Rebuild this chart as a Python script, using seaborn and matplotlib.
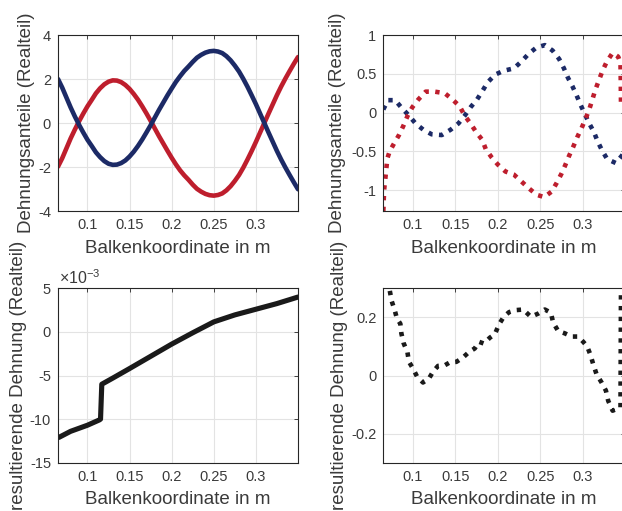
import numpy as np
import pandas as pd
import matplotlib
matplotlib.use("Agg")
import matplotlib.pyplot as plt
import matplotlib.ticker as mticker
import seaborn as sns

# ---------------- data ----------------
x_tl = [0.065, 0.07, 0.075, 0.08, 0.085, 0.09, 0.095, 0.10, 0.105, 0.11, 0.115, 0.12, 0.125, 0.13,
        0.135, 0.14, 0.145, 0.15, 0.155, 0.16, 0.165, 0.17, 0.175, 0.18, 0.185, 0.19, 0.195, 0.20,
        0.205, 0.21, 0.215, 0.22, 0.225, 0.23, 0.235, 0.24, 0.245, 0.25, 0.255, 0.26, 0.265, 0.27,
        0.275, 0.28, 0.285, 0.29, 0.295, 0.30, 0.305, 0.31, 0.315, 0.32, 0.325, 0.33, 0.335, 0.34,
        0.345, 0.35]
red_tl = [-1.98, -1.60, -1.15, -0.70, -0.30, 0.08, 0.43, 0.76, 1.05, 1.35, 1.58, 1.76, 1.88, 1.94,
          1.93, 1.86, 1.73, 1.55, 1.32, 1.06, 0.76, 0.44, 0.10, -0.25, -0.60, -0.93, -1.26, -1.58,
          -1.88, -2.15, -2.38, -2.58, -2.80, -2.99, -3.12, -3.22, -3.28, -3.30, -3.27, -3.20, -3.06, -2.87,
          -2.63, -2.36, -2.03, -1.66, -1.27, -0.86, -0.43, 0.00, 0.43, 0.85, 1.27, 1.66, 2.02, 2.36,
          2.69, 3.00]
blue_tl = [2.00, 1.61, 1.16, 0.71, 0.30, -0.08, -0.43, -0.76, -1.04, -1.33, -1.55, -1.73, -1.85, -1.90,
           -1.89, -1.82, -1.70, -1.52, -1.30, -1.04, -0.75, -0.43, -0.10, 0.25, 0.60, 0.93, 1.26, 1.57,
           1.87, 2.13, 2.37, 2.57, 2.78, 2.97, 3.10, 3.20, 3.26, 3.28, 3.25, 3.18, 3.04, 2.85,
           2.61, 2.34, 2.01, 1.65, 1.26, 0.86, 0.43, 0.00, -0.43, -0.85, -1.27, -1.66, -2.02, -2.36,
           -2.69, -3.01]

x_tr_blue = [0.065, 0.0705, 0.079, 0.0867, 0.0953, 0.103, 0.112, 0.122, 0.134, 0.1445, 0.1536,
             0.161, 0.168, 0.1756, 0.182, 0.188, 0.197, 0.207, 0.219, 0.228, 0.2366, 0.2457,
             0.2555, 0.2646, 0.2724, 0.278, 0.2827, 0.288, 0.293, 0.2976, 0.3027, 0.3078,
             0.3133, 0.3177, 0.323, 0.329, 0.339, 0.346, 0.35]
y_tr_blue = [0.04, 0.16, 0.16, 0.06, -0.04, -0.14, -0.22, -0.28, -0.29, -0.22, -0.14,
             -0.04, 0.07, 0.17, 0.28, 0.39, 0.49, 0.54, 0.57, 0.66, 0.76, 0.84,
             0.87, 0.80, 0.69, 0.57, 0.45, 0.34, 0.22, 0.10, -0.02, -0.14,
             -0.25, -0.37, -0.49, -0.60, -0.65, -0.56, -0.50]
x_tr_red = [0.065, 0.0652, 0.0656, 0.0662, 0.0674, 0.0686, 0.0698, 0.0725, 0.0776, 0.0835, 0.0887,
            0.0937, 0.0993, 0.1064, 0.115, 0.1256, 0.1374, 0.1465, 0.1551, 0.161, 0.1678, 0.1744,
            0.1815, 0.1858, 0.1929, 0.2, 0.209, 0.219, 0.228, 0.237, 0.2457, 0.2547, 0.2634,
            0.2693, 0.275, 0.2795, 0.284, 0.289, 0.2936, 0.2988, 0.3039, 0.3078, 0.3113, 0.3149,
            0.319, 0.3235, 0.3287, 0.3354, 0.342, 0.3447, 0.3450, 0.3453]
y_tr_red = [-1.27, -1.23, -1.10, -0.97, -0.85, -0.72, -0.59, -0.50, -0.40, -0.29, -0.17,
            -0.04, 0.07, 0.17, 0.27, 0.27, 0.25, 0.17, 0.08, -0.04, -0.14, -0.25,
            -0.35, -0.47, -0.58, -0.67, -0.76, -0.80, -0.89, -0.98, -1.06, -1.09, -1.02,
            -0.91, -0.79, -0.68, -0.56, -0.44, -0.32, -0.20, -0.07, 0.04, 0.16, 0.29,
            0.41, 0.54, 0.66, 0.77, 0.72, 0.64, 0.40, 0.10]

x_bl = [0.066, 0.08, 0.1, 0.114, 0.1155, 0.117, 0.13, 0.15, 0.175, 0.2, 0.225, 0.25, 0.275, 0.3, 0.325, 0.35]
y_bl = [-12.1e-3, -11.4e-3, -10.7e-3, -10.1e-3, -10.0e-3, -6.0e-3, -5.3e-3, -4.2e-3, -2.8e-3, -1.4e-3,
        -0.1e-3, 1.15e-3, 1.95e-3, 2.6e-3, 3.25e-3, 4.0e-3]

x_br = [0.065, 0.0725, 0.0749, 0.0784, 0.0811, 0.0851, 0.0863, 0.089, 0.0934, 0.0953, 0.1, 0.1047,
        0.1118, 0.1189, 0.1236, 0.1295, 0.1374, 0.1433, 0.1512, 0.159, 0.1661, 0.1728, 0.1779,
        0.1835, 0.1906, 0.1965, 0.2015, 0.207, 0.2133, 0.2212, 0.23, 0.239, 0.2476, 0.2555,
        0.2626, 0.2653, 0.2712, 0.2791, 0.287, 0.2948, 0.3007, 0.3054, 0.3094, 0.3125, 0.3165,
        0.3224, 0.3275, 0.3302, 0.3354, 0.342, 0.3447, 0.3450, 0.3453]
y_br = [0.40, 0.294, 0.256, 0.225, 0.196, 0.178, 0.145, 0.111, 0.081, 0.047, 0.024, -0.003,
        -0.024, -0.010, 0.013, 0.033, 0.035, 0.045, 0.047, 0.062, 0.081, 0.093, 0.116,
        0.110, 0.130, 0.142, 0.176, 0.202, 0.218, 0.225, 0.227, 0.202, 0.213, 0.227,
        0.216, 0.182, 0.153, 0.145, 0.134, 0.134, 0.116, 0.100, 0.070, 0.039, 0.004,
        -0.024, -0.052, -0.087, -0.121, -0.113, -0.110, 0.10, 0.32]

x_ticks = [0.1, 0.15, 0.2, 0.25, 0.3]
x_ticklabels = ["0.1", "0.15", "0.2", "0.25", "0.3"]
xlabel = "Balkenkoordinate in m"
ylabel_top = "Dehnungsanteile (Realteil)"
ylabel_bottom = "resultierende Dehnung (Realteil)"

# ---------------- style ----------------
sns.set_style("white")
TXT = "#3a3a3a"
plt.rcParams.update({
    "font.family": ["Liberation Sans", "DejaVu Sans"],
    "axes.unicode_minus": False,
    "mathtext.fontset": "custom",
    "mathtext.rm": "Liberation Sans",
    "mathtext.it": "Liberation Sans",
    "text.color": TXT,
    "axes.labelcolor": TXT,
    "xtick.color": TXT,
    "ytick.color": TXT,
})

RED = "#BE1E2D"
BLUE = "#1C2A66"
BLACK = "#1a1a1a"
LW = 3.3
DOT = (0, (0.95, 1.4))

fig = plt.figure(figsize=(6.22, 5.11), dpi=100)
W = 240 / 622
H_top = 176 / 511
H_bot = 174.4 / 511
ax_tl = fig.add_axes([58 / 622, 0.587, W, H_top])
ax_tr = fig.add_axes([383.3 / 622, 0.587, 241.7 / 622, H_top])
ax_bl = fig.add_axes([58 / 622, 0.0945, W, H_bot])
ax_br = fig.add_axes([383.3 / 622, 0.0945, 241.7 / 622, H_bot])

sns.lineplot(x=x_tl, y=red_tl, color=RED, linewidth=LW, ax=ax_tl, sort=False)
sns.lineplot(x=x_tl, y=blue_tl, color=BLUE, linewidth=LW, ax=ax_tl, sort=False)
sns.lineplot(x=x_tr_blue, y=y_tr_blue, color=BLUE, linewidth=LW, linestyle=DOT, ax=ax_tr, sort=False)
sns.lineplot(x=x_tr_red, y=y_tr_red, color=RED, linewidth=LW, linestyle=DOT, ax=ax_tr, sort=False)
sns.lineplot(x=x_bl, y=y_bl, color=BLACK, linewidth=LW + 0.4, ax=ax_bl, sort=False)
sns.lineplot(x=x_br, y=y_br, color=BLACK, linewidth=LW, linestyle=DOT, ax=ax_br, sort=False)

ylims = {ax_tl: (-4, 4), ax_tr: (-1.27, 1), ax_bl: (-15e-3, 5e-3), ax_br: (-0.3, 0.3)}
yticks = {ax_tl: [-4, -2, 0, 2, 4], ax_tr: [-1, -0.5, 0, 0.5, 1],
          ax_bl: [-15e-3, -10e-3, -5e-3, 0, 5e-3], ax_br: [-0.2, 0, 0.2]}

for ax in [ax_tl, ax_tr, ax_bl, ax_br]:
    ax.set_xlim(0.065, 0.35)
    ax.set_ylim(*ylims[ax])
    ax.set_xticks(x_ticks)
    ax.set_xticklabels(x_ticklabels)
    ax.set_yticks(yticks[ax])
    ax.grid(True, color="#e3e3e3", linewidth=0.8)
    ax.set_axisbelow(True)
    for s in ax.spines.values():
        s.set_color("#262626")
        s.set_linewidth(0.8)
        s.set_visible(True)
    ax.tick_params(direction="in", length=3, width=0.6, top=True, right=True,
                   labelsize=10.5, pad=5, colors="#262626", labelcolor=TXT)
    ax.set_xlabel(xlabel, fontsize=13.5)
    ax.xaxis.set_label_coords(0.5, -0.165)

ax_tl.yaxis.set_major_formatter(mticker.FuncFormatter(lambda v, p: "%g" % v))
ax_tr.yaxis.set_major_formatter(mticker.FuncFormatter(lambda v, p: "%g" % v))
ax_br.yaxis.set_major_formatter(mticker.FuncFormatter(lambda v, p: "%g" % v))
ax_bl.yaxis.set_major_formatter(mticker.FuncFormatter(lambda v, p: "%g" % round(v * 1e3, 6)))
ax_bl.text(0.005, 1.005, r"$\times10^{-3}$", transform=ax_bl.transAxes, fontsize=11.5,
           color=TXT, ha="left", va="bottom")

ax_tl.set_ylabel(ylabel_top, fontsize=13.5)
ax_tr.set_ylabel(ylabel_top, fontsize=13.5)
ax_bl.set_ylabel(ylabel_bottom, fontsize=13.5)
ax_br.set_ylabel(ylabel_bottom, fontsize=13.5)
ax_tl.yaxis.set_label_coords(-0.096, 0.5)
ax_tr.yaxis.set_label_coords(-0.154, 0.5)
ax_bl.yaxis.set_label_coords(-0.128, 0.5)
ax_br.yaxis.set_label_coords(-0.146, 0.5)

fig.savefig("out.png", dpi=100)
